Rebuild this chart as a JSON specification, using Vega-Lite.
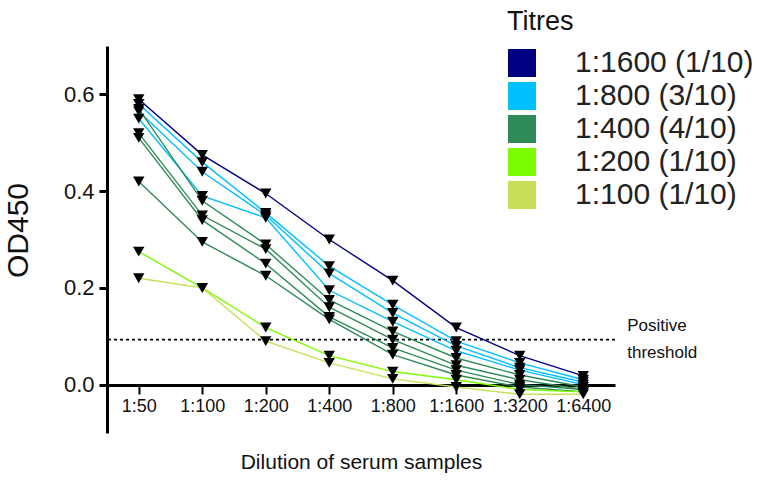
{
  "$schema": "https://vega.github.io/schema/vega-lite/v6.json",
  "width": 508,
  "height": 387,
  "autosize": "none",
  "padding": {"left": 107, "top": 46, "right": 142, "bottom": 50},
  "background": "white",
  "config": {
    "view": {"stroke": null},
    "axis": {"grid": false, "domainColor": "black", "tickColor": "black", "labelColor": "#111", "titleColor": "#111", "titleFontWeight": "normal"},
    "legend": {"titleFontWeight": "normal"}
  },
  "datasets": {
    "od": [
      {"sample": "N", "titre": "1:1600 (1/10)", "dilution": "1:50", "od": 0.59},
      {"sample": "N", "titre": "1:1600 (1/10)", "dilution": "1:100", "od": 0.475},
      {"sample": "N", "titre": "1:1600 (1/10)", "dilution": "1:200", "od": 0.395},
      {"sample": "N", "titre": "1:1600 (1/10)", "dilution": "1:400", "od": 0.30},
      {"sample": "N", "titre": "1:1600 (1/10)", "dilution": "1:800", "od": 0.215},
      {"sample": "N", "titre": "1:1600 (1/10)", "dilution": "1:1600", "od": 0.118},
      {"sample": "N", "titre": "1:1600 (1/10)", "dilution": "1:3200", "od": 0.06},
      {"sample": "N", "titre": "1:1600 (1/10)", "dilution": "1:6400", "od": 0.018},
      {"sample": "S1", "titre": "1:800 (3/10)", "dilution": "1:50", "od": 0.58},
      {"sample": "S1", "titre": "1:800 (3/10)", "dilution": "1:100", "od": 0.46},
      {"sample": "S1", "titre": "1:800 (3/10)", "dilution": "1:200", "od": 0.355},
      {"sample": "S1", "titre": "1:800 (3/10)", "dilution": "1:400", "od": 0.245},
      {"sample": "S1", "titre": "1:800 (3/10)", "dilution": "1:800", "od": 0.165},
      {"sample": "S1", "titre": "1:800 (3/10)", "dilution": "1:1600", "od": 0.09},
      {"sample": "S1", "titre": "1:800 (3/10)", "dilution": "1:3200", "od": 0.045},
      {"sample": "S1", "titre": "1:800 (3/10)", "dilution": "1:6400", "od": 0.01},
      {"sample": "S2", "titre": "1:800 (3/10)", "dilution": "1:50", "od": 0.565},
      {"sample": "S2", "titre": "1:800 (3/10)", "dilution": "1:100", "od": 0.44},
      {"sample": "S2", "titre": "1:800 (3/10)", "dilution": "1:200", "od": 0.35},
      {"sample": "S2", "titre": "1:800 (3/10)", "dilution": "1:400", "od": 0.23},
      {"sample": "S2", "titre": "1:800 (3/10)", "dilution": "1:800", "od": 0.148},
      {"sample": "S2", "titre": "1:800 (3/10)", "dilution": "1:1600", "od": 0.08},
      {"sample": "S2", "titre": "1:800 (3/10)", "dilution": "1:3200", "od": 0.035},
      {"sample": "S2", "titre": "1:800 (3/10)", "dilution": "1:6400", "od": 0.005},
      {"sample": "S3", "titre": "1:800 (3/10)", "dilution": "1:50", "od": 0.55},
      {"sample": "S3", "titre": "1:800 (3/10)", "dilution": "1:100", "od": 0.39},
      {"sample": "S3", "titre": "1:800 (3/10)", "dilution": "1:200", "od": 0.345},
      {"sample": "S3", "titre": "1:800 (3/10)", "dilution": "1:400", "od": 0.195},
      {"sample": "S3", "titre": "1:800 (3/10)", "dilution": "1:800", "od": 0.13},
      {"sample": "S3", "titre": "1:800 (3/10)", "dilution": "1:1600", "od": 0.07},
      {"sample": "S3", "titre": "1:800 (3/10)", "dilution": "1:3200", "od": 0.03},
      {"sample": "S3", "titre": "1:800 (3/10)", "dilution": "1:6400", "od": 0.0},
      {"sample": "G1", "titre": "1:400 (4/10)", "dilution": "1:50", "od": 0.57},
      {"sample": "G1", "titre": "1:400 (4/10)", "dilution": "1:100", "od": 0.38},
      {"sample": "G1", "titre": "1:400 (4/10)", "dilution": "1:200", "od": 0.29},
      {"sample": "G1", "titre": "1:400 (4/10)", "dilution": "1:400", "od": 0.175},
      {"sample": "G1", "titre": "1:400 (4/10)", "dilution": "1:800", "od": 0.11},
      {"sample": "G1", "titre": "1:400 (4/10)", "dilution": "1:1600", "od": 0.055},
      {"sample": "G1", "titre": "1:400 (4/10)", "dilution": "1:3200", "od": 0.02},
      {"sample": "G1", "titre": "1:400 (4/10)", "dilution": "1:6400", "od": -0.005},
      {"sample": "G2", "titre": "1:400 (4/10)", "dilution": "1:50", "od": 0.52},
      {"sample": "G2", "titre": "1:400 (4/10)", "dilution": "1:100", "od": 0.35},
      {"sample": "G2", "titre": "1:400 (4/10)", "dilution": "1:200", "od": 0.28},
      {"sample": "G2", "titre": "1:400 (4/10)", "dilution": "1:400", "od": 0.16},
      {"sample": "G2", "titre": "1:400 (4/10)", "dilution": "1:800", "od": 0.093},
      {"sample": "G2", "titre": "1:400 (4/10)", "dilution": "1:1600", "od": 0.04},
      {"sample": "G2", "titre": "1:400 (4/10)", "dilution": "1:3200", "od": 0.01},
      {"sample": "G2", "titre": "1:400 (4/10)", "dilution": "1:6400", "od": -0.01},
      {"sample": "G3", "titre": "1:400 (4/10)", "dilution": "1:50", "od": 0.51},
      {"sample": "G3", "titre": "1:400 (4/10)", "dilution": "1:100", "od": 0.34},
      {"sample": "G3", "titre": "1:400 (4/10)", "dilution": "1:200", "od": 0.25},
      {"sample": "G3", "titre": "1:400 (4/10)", "dilution": "1:400", "od": 0.14},
      {"sample": "G3", "titre": "1:400 (4/10)", "dilution": "1:800", "od": 0.076},
      {"sample": "G3", "titre": "1:400 (4/10)", "dilution": "1:1600", "od": 0.03},
      {"sample": "G3", "titre": "1:400 (4/10)", "dilution": "1:3200", "od": 0.0},
      {"sample": "G3", "titre": "1:400 (4/10)", "dilution": "1:6400", "od": -0.01},
      {"sample": "G4", "titre": "1:400 (4/10)", "dilution": "1:50", "od": 0.42},
      {"sample": "G4", "titre": "1:400 (4/10)", "dilution": "1:100", "od": 0.295},
      {"sample": "G4", "titre": "1:400 (4/10)", "dilution": "1:200", "od": 0.225},
      {"sample": "G4", "titre": "1:400 (4/10)", "dilution": "1:400", "od": 0.135},
      {"sample": "G4", "titre": "1:400 (4/10)", "dilution": "1:800", "od": 0.062},
      {"sample": "G4", "titre": "1:400 (4/10)", "dilution": "1:1600", "od": 0.02},
      {"sample": "G4", "titre": "1:400 (4/10)", "dilution": "1:3200", "od": -0.005},
      {"sample": "G4", "titre": "1:400 (4/10)", "dilution": "1:6400", "od": -0.015},
      {"sample": "L", "titre": "1:200 (1/10)", "dilution": "1:50", "od": 0.275},
      {"sample": "L", "titre": "1:200 (1/10)", "dilution": "1:100", "od": 0.2},
      {"sample": "L", "titre": "1:200 (1/10)", "dilution": "1:200", "od": 0.118},
      {"sample": "L", "titre": "1:200 (1/10)", "dilution": "1:400", "od": 0.06},
      {"sample": "L", "titre": "1:200 (1/10)", "dilution": "1:800", "od": 0.027},
      {"sample": "L", "titre": "1:200 (1/10)", "dilution": "1:1600", "od": 0.01},
      {"sample": "L", "titre": "1:200 (1/10)", "dilution": "1:3200", "od": -0.01},
      {"sample": "L", "titre": "1:200 (1/10)", "dilution": "1:6400", "od": -0.015},
      {"sample": "Y", "titre": "1:100 (1/10)", "dilution": "1:50", "od": 0.22},
      {"sample": "Y", "titre": "1:100 (1/10)", "dilution": "1:100", "od": 0.2},
      {"sample": "Y", "titre": "1:100 (1/10)", "dilution": "1:200", "od": 0.09},
      {"sample": "Y", "titre": "1:100 (1/10)", "dilution": "1:400", "od": 0.045},
      {"sample": "Y", "titre": "1:100 (1/10)", "dilution": "1:800", "od": 0.012},
      {"sample": "Y", "titre": "1:100 (1/10)", "dilution": "1:1600", "od": -0.005},
      {"sample": "Y", "titre": "1:100 (1/10)", "dilution": "1:3200", "od": -0.02},
      {"sample": "Y", "titre": "1:100 (1/10)", "dilution": "1:6400", "od": -0.02}
    ]
  },
  "layer": [
    {
      "data": {"values": [{"threshold": 0.093}]},
      "mark": {"type": "rule", "strokeDash": [3, 3], "strokeWidth": 1.6, "color": "black"},
      "encoding": {"y": {"field": "threshold", "type": "quantitative", "scale": {"domain": [-0.1, 0.7]}}}
    },
    {
      "data": {"name": "od"},
      "mark": {"type": "line", "strokeWidth": 1.4},
      "encoding": {
        "x": {
          "field": "dilution", "type": "ordinal",
          "scale": {"type": "point", "padding": 0.5, "domain": ["1:50", "1:100", "1:200", "1:400", "1:800", "1:1600", "1:3200", "1:6400"]},
          "axis": {
            "title": "Dilution of serum samples", "labelAngle": 0, "offset": -48,
            "domainWidth": 3, "tickWidth": 2, "tickSize": 9, "labelPadding": 3,
            "labelFont": "Liberation Sans", "labelFontSize": 18,
            "titleFont": "Liberation Sans", "titleFontSize": 21, "titlePadding": 36
          }
        },
        "y": {
          "field": "od", "type": "quantitative",
          "scale": {"domain": [-0.1, 0.7], "nice": false, "zero": false},
          "axis": {
            "title": "OD450", "values": [0, 0.2, 0.4, 0.6], "format": ".1f",
            "domainWidth": 3, "tickWidth": 3, "tickSize": 8, "labelPadding": 5,
            "labelFont": "Liberation Sans", "labelFontSize": 22,
            "titleFont": "Liberation Sans", "titleFontSize": 30, "titlePadding": 30, "titleY": 184
          }
        },
        "color": {
          "field": "titre", "type": "nominal",
          "scale": {
            "domain": ["1:1600 (1/10)", "1:800 (3/10)", "1:400 (4/10)", "1:200 (1/10)", "1:100 (1/10)"],
            "range": ["#000080", "#00BFFF", "#2E8B57", "#7CFC00", "#C8DF5A"]
          },
          "legend": {
            "title": "Titres", "orient": "none", "legendX": 400, "legendY": -37,
            "symbolType": "square", "symbolSize": 784, "symbolStrokeWidth": 0,
            "titleFont": "Liberation Sans", "titleFontSize": 27, "titleColor": "#111", "titlePadding": 12,
            "labelFont": "Liberation Sans", "labelFontSize": 30, "labelColor": "#222", "labelOffset": 38, "labelLimit": 0,
            "rowPadding": 3, "padding": 0,
            "encode": {"symbols": {"update": {"fill": {"scale": "color", "field": "value"}, "fillOpacity": {"value": 1}, "strokeWidth": {"value": 0}}}}
          }
        },
        "detail": {"field": "sample"}
      }
    },
    {
      "data": {"name": "od"},
      "mark": {"type": "point", "shape": "triangle-down", "filled": true, "color": "black", "size": 130, "opacity": 1},
      "encoding": {
        "x": {"field": "dilution", "type": "ordinal"},
        "y": {"field": "od", "type": "quantitative"}
      }
    },
    {
      "data": {"values": [{"label": "Positive\nthreshold", "at": "1:6400", "threshold": 0.093}]},
      "mark": {"type": "text", "align": "left", "baseline": "middle", "dx": 44, "dy": -14, "lineBreak": "\n", "lineHeight": 27, "font": "Liberation Sans", "fontSize": 17, "color": "#111"},
      "encoding": {
        "x": {"field": "at", "type": "ordinal"},
        "y": {"field": "threshold", "type": "quantitative"},
        "text": {"field": "label"}
      }
    }
  ]
}
